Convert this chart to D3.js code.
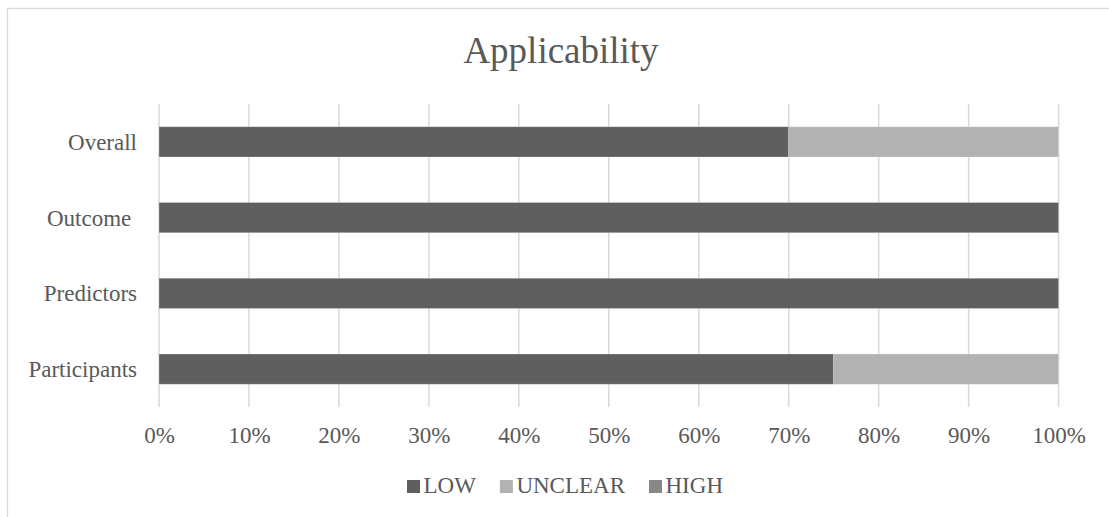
<!DOCTYPE html>
<html>
<head>
<meta charset="utf-8">
<script src="https://cdn.jsdelivr.net/npm/d3@7"></script>
<style>
  html, body { margin: 0; padding: 0; background: #fff; }
  svg { display: block; }
  text { font-family: "Liberation Serif", "Times New Roman", serif; fill: #595959; }
</style>
</head>
<body>
<svg id="chart" width="1109" height="517"></svg>
<script>
// Applicability ratings per domain (percent of studies)
const categories = ["Overall", "Outcome ", "Predictors", "Participants"];
const seriesNames = ["LOW", "UNCLEAR", "HIGH"];
const lowValues = [70, 100, 100, 75];
const unclearValues = [30, 0, 0, 25];
const highValues = [0, 0, 0, 0];
const tickValues = [0, 10, 20, 30, 40, 50, 60, 70, 80, 90, 100];
const seriesColors = ["#5f5f5f", "#b2b2b2", "#878787"];

const rows = categories.map((c, i) => ({
  category: c, LOW: lowValues[i], UNCLEAR: unclearValues[i], HIGH: highValues[i]
}));

const svg = d3.select("#chart");
const W = 1109, H = 517;
const margin = { left: 159, right: W - 1058.6, top: 104, bottom: H - 407 };

// chart frame
svg.append("rect")
  .attr("x", 7.5).attr("y", 8.5)
  .attr("width", 1200).attr("height", 600)
  .attr("fill", "none").attr("stroke", "#d9d9d9").attr("stroke-width", 1.3);

const x = d3.scaleLinear().domain([0, 100]).range([margin.left, W - margin.right]);
const y = d3.scaleBand().domain(categories).range([margin.top, H - margin.bottom]).paddingInner(0.6).paddingOuter(0.3);
const color = d3.scaleOrdinal().domain(seriesNames).range(seriesColors);

// title
svg.append("text")
  .attr("x", 561).attr("y", 63)
  .attr("text-anchor", "middle")
  .attr("font-size", 37)
  .text("Applicability");

// vertical gridlines
svg.append("g")
  .selectAll("line")
  .data(tickValues)
  .join("line")
  .attr("x1", d => x(d)).attr("x2", d => x(d))
  .attr("y1", margin.top).attr("y2", H - margin.bottom)
  .attr("stroke", "#d9d9d9").attr("stroke-width", 1.5);

// stacked bars
const stacked = d3.stack().keys(seriesNames)(rows);
svg.append("g")
  .selectAll("g")
  .data(stacked)
  .join("g")
  .attr("fill", d => color(d.key))
  .selectAll("rect")
  .data(d => d.filter(s => s[1] > s[0]))
  .join("rect")
  .attr("x", d => x(d[0]))
  .attr("y", d => y(d.data.category))
  .attr("width", d => x(d[1]) - x(d[0]))
  .attr("height", y.bandwidth())
  .attr("stroke", "#ffffff").attr("stroke-opacity", 0.35).attr("stroke-width", 0.75);

// x axis labels
const xAxis = d3.axisBottom(x)
  .tickValues(tickValues)
  .tickFormat(d => d + "%")
  .tickSize(0)
  .tickPadding(0);
const gx = svg.append("g")
  .attr("transform", `translate(0,${H - margin.bottom})`)
  .call(xAxis);
gx.select(".domain").remove();
gx.selectAll("text")
  .attr("y", 36).attr("dy", 0)
  .attr("font-size", 23)
  .attr("font-family", "Liberation Serif, Times New Roman, serif")
  .attr("fill", "#595959");

// y axis labels
const yAxis = d3.axisLeft(y).tickSize(0).tickPadding(0);
const gy = svg.append("g")
  .attr("transform", `translate(${margin.left},0)`)
  .call(yAxis);
gy.select(".domain").remove();
gy.selectAll("text")
  .attr("x", -22).attr("dy", "0.35em")
  .attr("font-size", 23)
  .attr("font-family", "Liberation Serif, Times New Roman, serif")
  .attr("fill", "#595959")
  .style("white-space", "pre");

// legend
const legend = svg.append("g");
const sq = 13, textGap = 3.5, itemGap = 24;
const items = legend.selectAll("g")
  .data(seriesNames)
  .join("g");
items.append("rect")
  .attr("width", sq).attr("height", sq)
  .attr("y", -13)
  .attr("fill", d => color(d));
items.append("text")
  .attr("x", sq + textGap)
  .attr("y", 0)
  .attr("font-size", 23)
  .text(d => d);
let cursor = 0;
items.each(function () {
  const g = d3.select(this);
  g.attr("transform", `translate(${cursor},0)`);
  const w = sq + textGap + g.select("text").node().getComputedTextLength();
  cursor += w + itemGap;
});
const legendWidth = cursor - itemGap;
legend.attr("transform", `translate(${565 - legendWidth / 2},493)`);
</script>
</body>
</html>
